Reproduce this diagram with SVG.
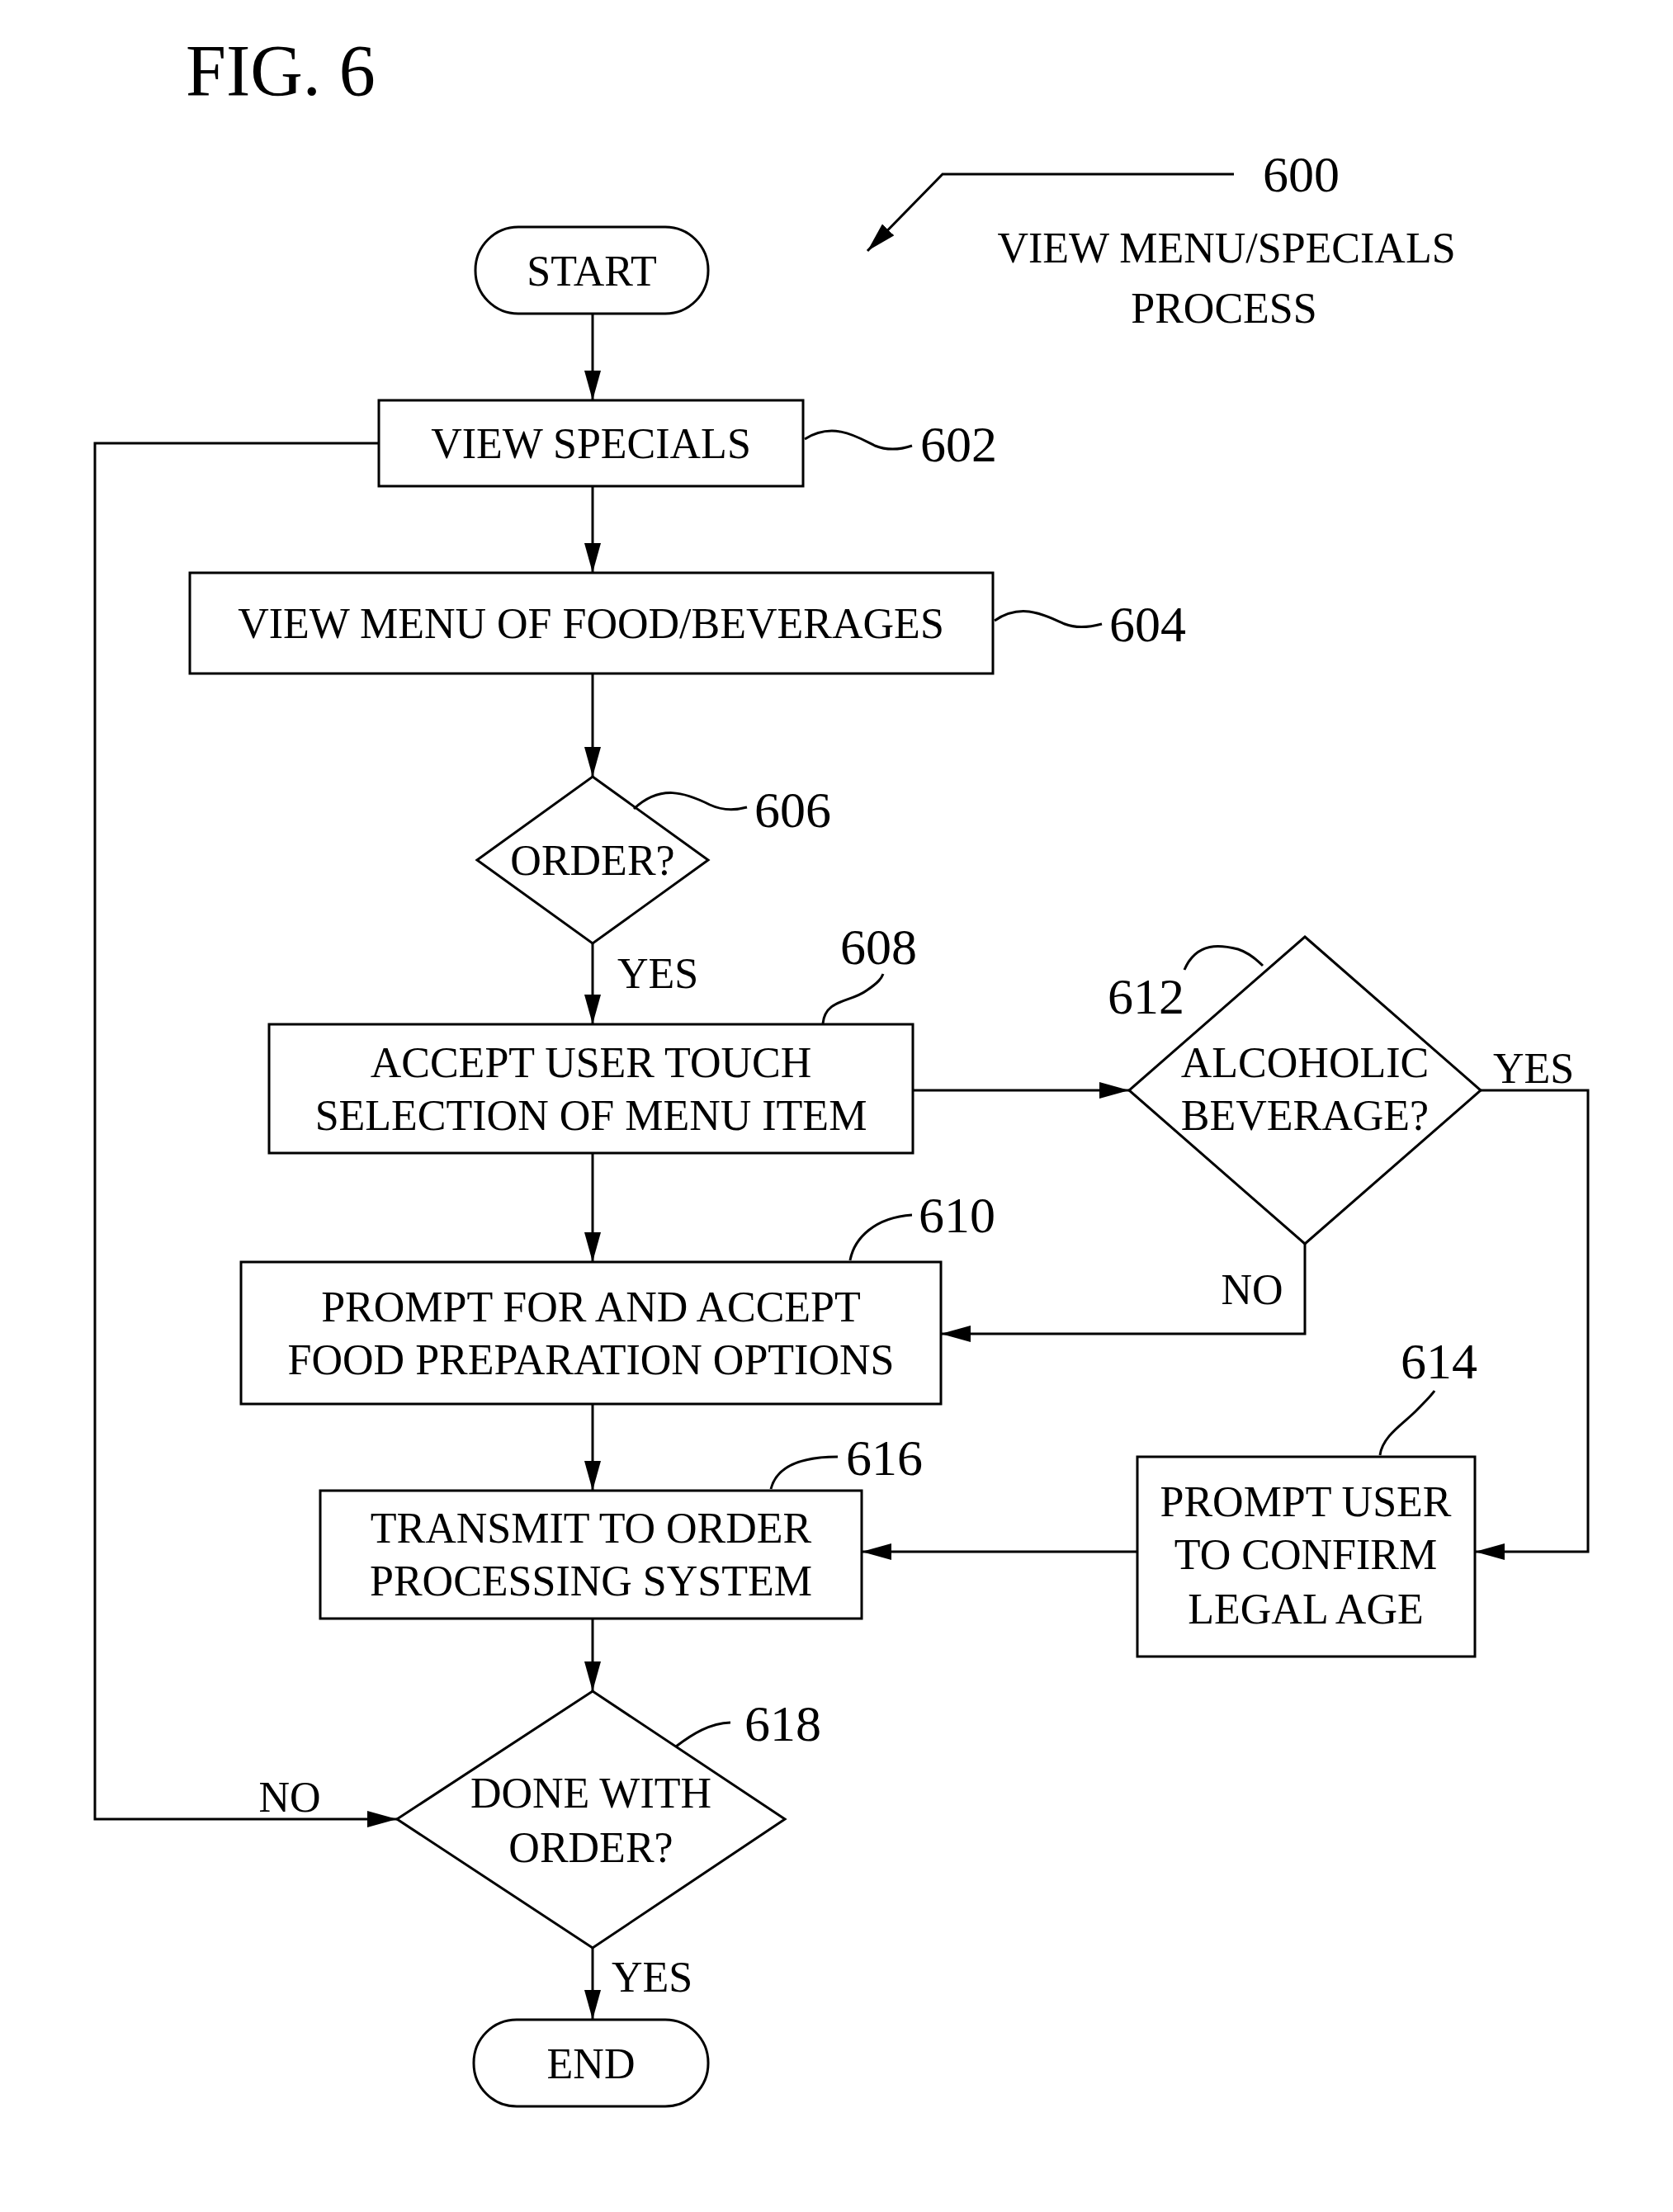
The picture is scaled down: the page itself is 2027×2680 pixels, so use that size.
<svg xmlns="http://www.w3.org/2000/svg" width="2027" height="2680" viewBox="0 0 2027 2680">
<defs>
<marker id="ah" markerWidth="14" markerHeight="10" refX="14" refY="5" orient="auto" markerUnits="userSpaceOnUse"><path d="M0,0 L14,5 L0,10 Z" fill="#000"/></marker>
<marker id="ahb" markerWidth="36" markerHeight="20" refX="36" refY="10" orient="auto" markerUnits="userSpaceOnUse"><path d="M0,0 L36,10 L0,20 Z" fill="#000"/></marker>
</defs>
<style>
.s{fill:none;stroke:#000;stroke-width:3}
.t{font-family:"Liberation Serif",serif;font-size:52px;text-anchor:middle;fill:#000}
.n{font-family:"Liberation Serif",serif;font-size:62px;fill:#000}
.c{fill:none;stroke:#000;stroke-width:3;marker-end:url(#ahb)}
</style>
<rect width="2027" height="2680" fill="#fff"/>
<text x="225" y="115" font-family="Liberation Serif,serif" font-size="88" fill="#000">FIG. 6</text>
<g id="label600">
<text class="n" x="1530" y="232">600</text>
<path class="c" d="M1495,211 L1142,211 L1051,304"/>
<text class="t" x="1486" y="318">VIEW MENU/SPECIALS</text>
<text class="t" x="1483" y="391">PROCESS</text>
</g>
<g id="start"><rect class="s" x="576" y="275" width="282" height="105" rx="52"/><text class="t" x="717" y="346">START</text></g>
<g id="n602"><rect class="s" x="459" y="485" width="514" height="104"/><text class="t" x="716" y="555">VIEW SPECIALS</text>
<path class="s" d="M975,532 C1010,510 1040,530 1060,540 C1075,546 1090,545 1105,540"/><text class="n" x="1115" y="559">602</text></g>
<g id="n604"><rect class="s" x="230" y="694" width="973" height="122"/><text class="t" x="716" y="773">VIEW MENU OF FOOD/BEVERAGES</text>
<path class="s" d="M1205,752 C1240,728 1270,748 1290,756 C1305,762 1320,760 1335,756"/><text class="n" x="1344" y="777">604</text></g>
<g id="n606"><path class="s" d="M718,941 L858,1042 L718,1143 L578,1042 Z"/><text class="t" x="718" y="1060">ORDER?</text>
<path class="s" d="M768,980 C800,950 830,960 860,975 C875,982 890,982 905,978"/><text class="n" x="914" y="1002">606</text></g>
<g id="n608"><rect class="s" x="326" y="1241" width="780" height="156"/><text class="t" x="716" y="1305">ACCEPT USER TOUCH</text><text class="t" x="716" y="1369">SELECTION OF MENU ITEM</text>
<path class="s" d="M997,1240 C1000,1210 1030,1215 1050,1200 C1065,1190 1068,1185 1070,1180"/><text class="n" x="1018" y="1168">608</text></g>
<g id="n612"><path class="s" d="M1581,1135 L1794,1321 L1581,1507 L1368,1321 Z"/><text class="t" x="1581" y="1305">ALCOHOLIC</text><text class="t" x="1581" y="1369">BEVERAGE?</text>
<path class="s" d="M1435,1175 C1450,1140 1480,1145 1500,1150 C1515,1155 1525,1165 1530,1170"/><text class="n" x="1342" y="1228">612</text></g>
<g id="n610"><rect class="s" x="292" y="1529" width="848" height="172"/><text class="t" x="716" y="1601">PROMPT FOR AND ACCEPT</text><text class="t" x="716" y="1665">FOOD PREPARATION OPTIONS</text>
<path class="s" d="M1030,1527 C1035,1500 1060,1475 1105,1472"/><text class="n" x="1113" y="1493">610</text></g>
<g id="n614"><rect class="s" x="1378" y="1765" width="409" height="242"/><text class="t" x="1582" y="1837">PROMPT USER</text><text class="t" x="1582" y="1901">TO CONFIRM</text><text class="t" x="1582" y="1967">LEGAL AGE</text>
<path class="s" d="M1672,1763 C1675,1740 1700,1725 1715,1710 C1730,1695 1735,1690 1738,1685"/><text class="n" x="1697" y="1670">614</text></g>
<g id="n616"><rect class="s" x="388" y="1806" width="656" height="155"/><text class="t" x="716" y="1869">TRANSMIT TO ORDER</text><text class="t" x="716" y="1933">PROCESSING SYSTEM</text>
<path class="s" d="M934,1804 C940,1780 965,1765 1015,1765"/><text class="n" x="1025" y="1787">616</text></g>
<g id="n618"><path class="s" d="M718,2049 L951,2204 L718,2360 L481,2204 Z"/><text class="t" x="716" y="2190">DONE WITH</text><text class="t" x="716" y="2256">ORDER?</text>
<path class="s" d="M819,2116 C840,2100 860,2088 885,2087"/><text class="n" x="902" y="2109">618</text></g>
<g id="end"><rect class="s" x="574" y="2447" width="284" height="105" rx="52"/><text class="t" x="716" y="2518">END</text></g>
<g id="connectors">
<path class="c" d="M718,380 L718,485"/>
<path class="c" d="M718,589 L718,694"/>
<path class="c" d="M718,816 L718,941"/>
<path class="c" d="M718,1143 L718,1241"/>
<path class="c" d="M1106,1321 L1368,1321"/>
<path class="c" d="M718,1397 L718,1529"/>
<path class="c" d="M1581,1507 L1581,1616 L1140,1616"/>
<path class="c" d="M1794,1321 L1924,1321 L1924,1880 L1787,1880"/>
<path class="c" d="M1378,1880 L1044,1880"/>
<path class="c" d="M718,1701 L718,1806"/>
<path class="c" d="M718,1961 L718,2049"/>
<path class="c" d="M459,537 L115,537 L115,2204 L481,2204"/>
<path class="c" d="M718,2360 L718,2447"/>
<text class="t" x="797" y="1197">YES</text>
<text class="t" x="1858" y="1312">YES</text>
<text class="t" x="1517" y="1580">NO</text>
<text class="t" x="351" y="2195">NO</text>
<text class="t" x="790" y="2413">YES</text>
</g>
</svg>
